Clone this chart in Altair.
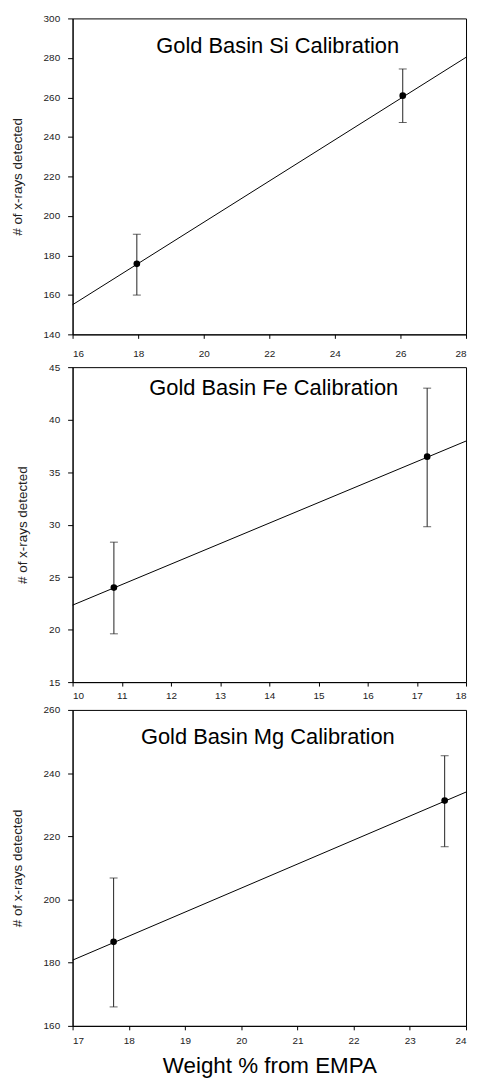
import altair as alt
import pandas as pd

FONT = "Liberation Sans"

titles = ["Gold Basin Si Calibration", "Gold Basin Fe Calibration", "Gold Basin Mg Calibration"]
x_domains = [[16, 28], [10, 18], [17, 24]]
y_domains = [[140, 300], [15, 45], [160, 260]]
x_ticks = [[16, 18, 20, 22, 24, 26, 28],
           [10, 11, 12, 13, 14, 15, 16, 17, 18],
           [17, 18, 19, 20, 21, 22, 23, 24]]
y_ticks = [[140, 160, 180, 200, 220, 240, 260, 280, 300],
           [15, 20, 25, 30, 35, 40, 45],
           [160, 180, 200, 220, 240, 260]]

# measured calibration points
pt_x = [[17.96, 26.07], [10.84, 17.21], [17.73, 23.62]]
pt_y = [[175.7, 260.9], [24.0, 36.47], [186.6, 231.3]]
err_lo = [[159.9, 247.3], [19.6, 29.8], [166.0, 216.7]]
err_hi = [[190.7, 274.4], [28.33, 43.0], [206.8, 245.5]]

# fitted calibration lines (endpoints)
line_x = [[16, 28], [10, 18], [17, 24]]
line_y = [[155.0, 280.3], [22.33, 37.96], [180.8, 234.0]]

# layout per panel
heights = [318, 317, 318]
x_label_pad = [10, 5, 6]
title_px = [[206.5, 35], [202.5, 28], [196.5, 34]]

Y_TITLE = "# of x-rays detected"
X_TITLE = "Weight % from EMPA"


def panel(i, last):
    pts = pd.DataFrame({"x": pt_x[i], "y": pt_y[i], "lo": err_lo[i], "hi": err_hi[i]})
    ln = pd.DataFrame({"x": line_x[i], "y": line_y[i]})
    xs = alt.Scale(domain=x_domains[i], nice=False, zero=False)
    ys = alt.Scale(domain=y_domains[i], nice=False, zero=False)
    if last:
        xaxis = alt.Axis(values=x_ticks[i], tickCount=len(x_ticks[i]) + 2, format="d",
                         labelPadding=x_label_pad[i],
                         title=X_TITLE, titleFontSize=22.5, titlePadding=9,
                         titleFontWeight="normal", titleColor="black")
    else:
        xaxis = alt.Axis(values=x_ticks[i], tickCount=len(x_ticks[i]) + 2, format="d",
                         labelPadding=x_label_pad[i], title=None)
    yaxis = alt.Axis(values=y_ticks[i], tickCount=len(y_ticks[i]) + 2, format="d",
                     labelPadding=8, tickSize=5,
                     title=Y_TITLE, titleFontSize=13.5,
                     titleFontWeight="normal", titleColor="#222", titlePadding=19)

    line = alt.Chart(ln).mark_line(color="black", strokeWidth=1).encode(
        x=alt.X("x:Q", scale=xs, axis=xaxis),
        y=alt.Y("y:Q", scale=ys, axis=yaxis),
    )
    err = alt.Chart(pts).mark_rule(color="#222", strokeWidth=1).encode(
        x="x:Q", y="lo:Q", y2="hi:Q"
    )
    cap_lo = alt.Chart(pts).mark_tick(orient="horizontal", size=8, thickness=1, color="#222").encode(
        x="x:Q", y="lo:Q"
    )
    cap_hi = alt.Chart(pts).mark_tick(orient="horizontal", size=8, thickness=1, color="#222").encode(
        x="x:Q", y="hi:Q"
    )
    dots = alt.Chart(pts).mark_point(filled=True, size=45, color="black", opacity=1).encode(
        x="x:Q", y="y:Q"
    )
    ttl = alt.Chart(pd.DataFrame({"t": [titles[i]]})).mark_text(
        font=FONT, fontSize=22, align="center", baseline="alphabetic", color="black"
    ).encode(x=alt.value(title_px[i][0]), y=alt.value(title_px[i][1]), text="t:N")

    return alt.layer(line, err, cap_lo, cap_hi, dots, ttl).properties(width=396, height=heights[i])


chart = alt.vconcat(
    panel(0, False), panel(1, False), panel(2, True), spacing=2
).properties(
    padding={"left": 1, "top": 1, "right": 0, "bottom": 0}
).configure_axis(
    labelFont=FONT, titleFont=FONT, labelFontSize=10, labelColor="#222",
    domainColor="black", tickColor="black", tickSize=4, labelPadding=5,
    labelOverlap=False, grid=False,
).configure_view(
    stroke="black", strokeWidth=1
)

chart.save("out.html", embed_options={"renderer": "svg", "actions": False})
